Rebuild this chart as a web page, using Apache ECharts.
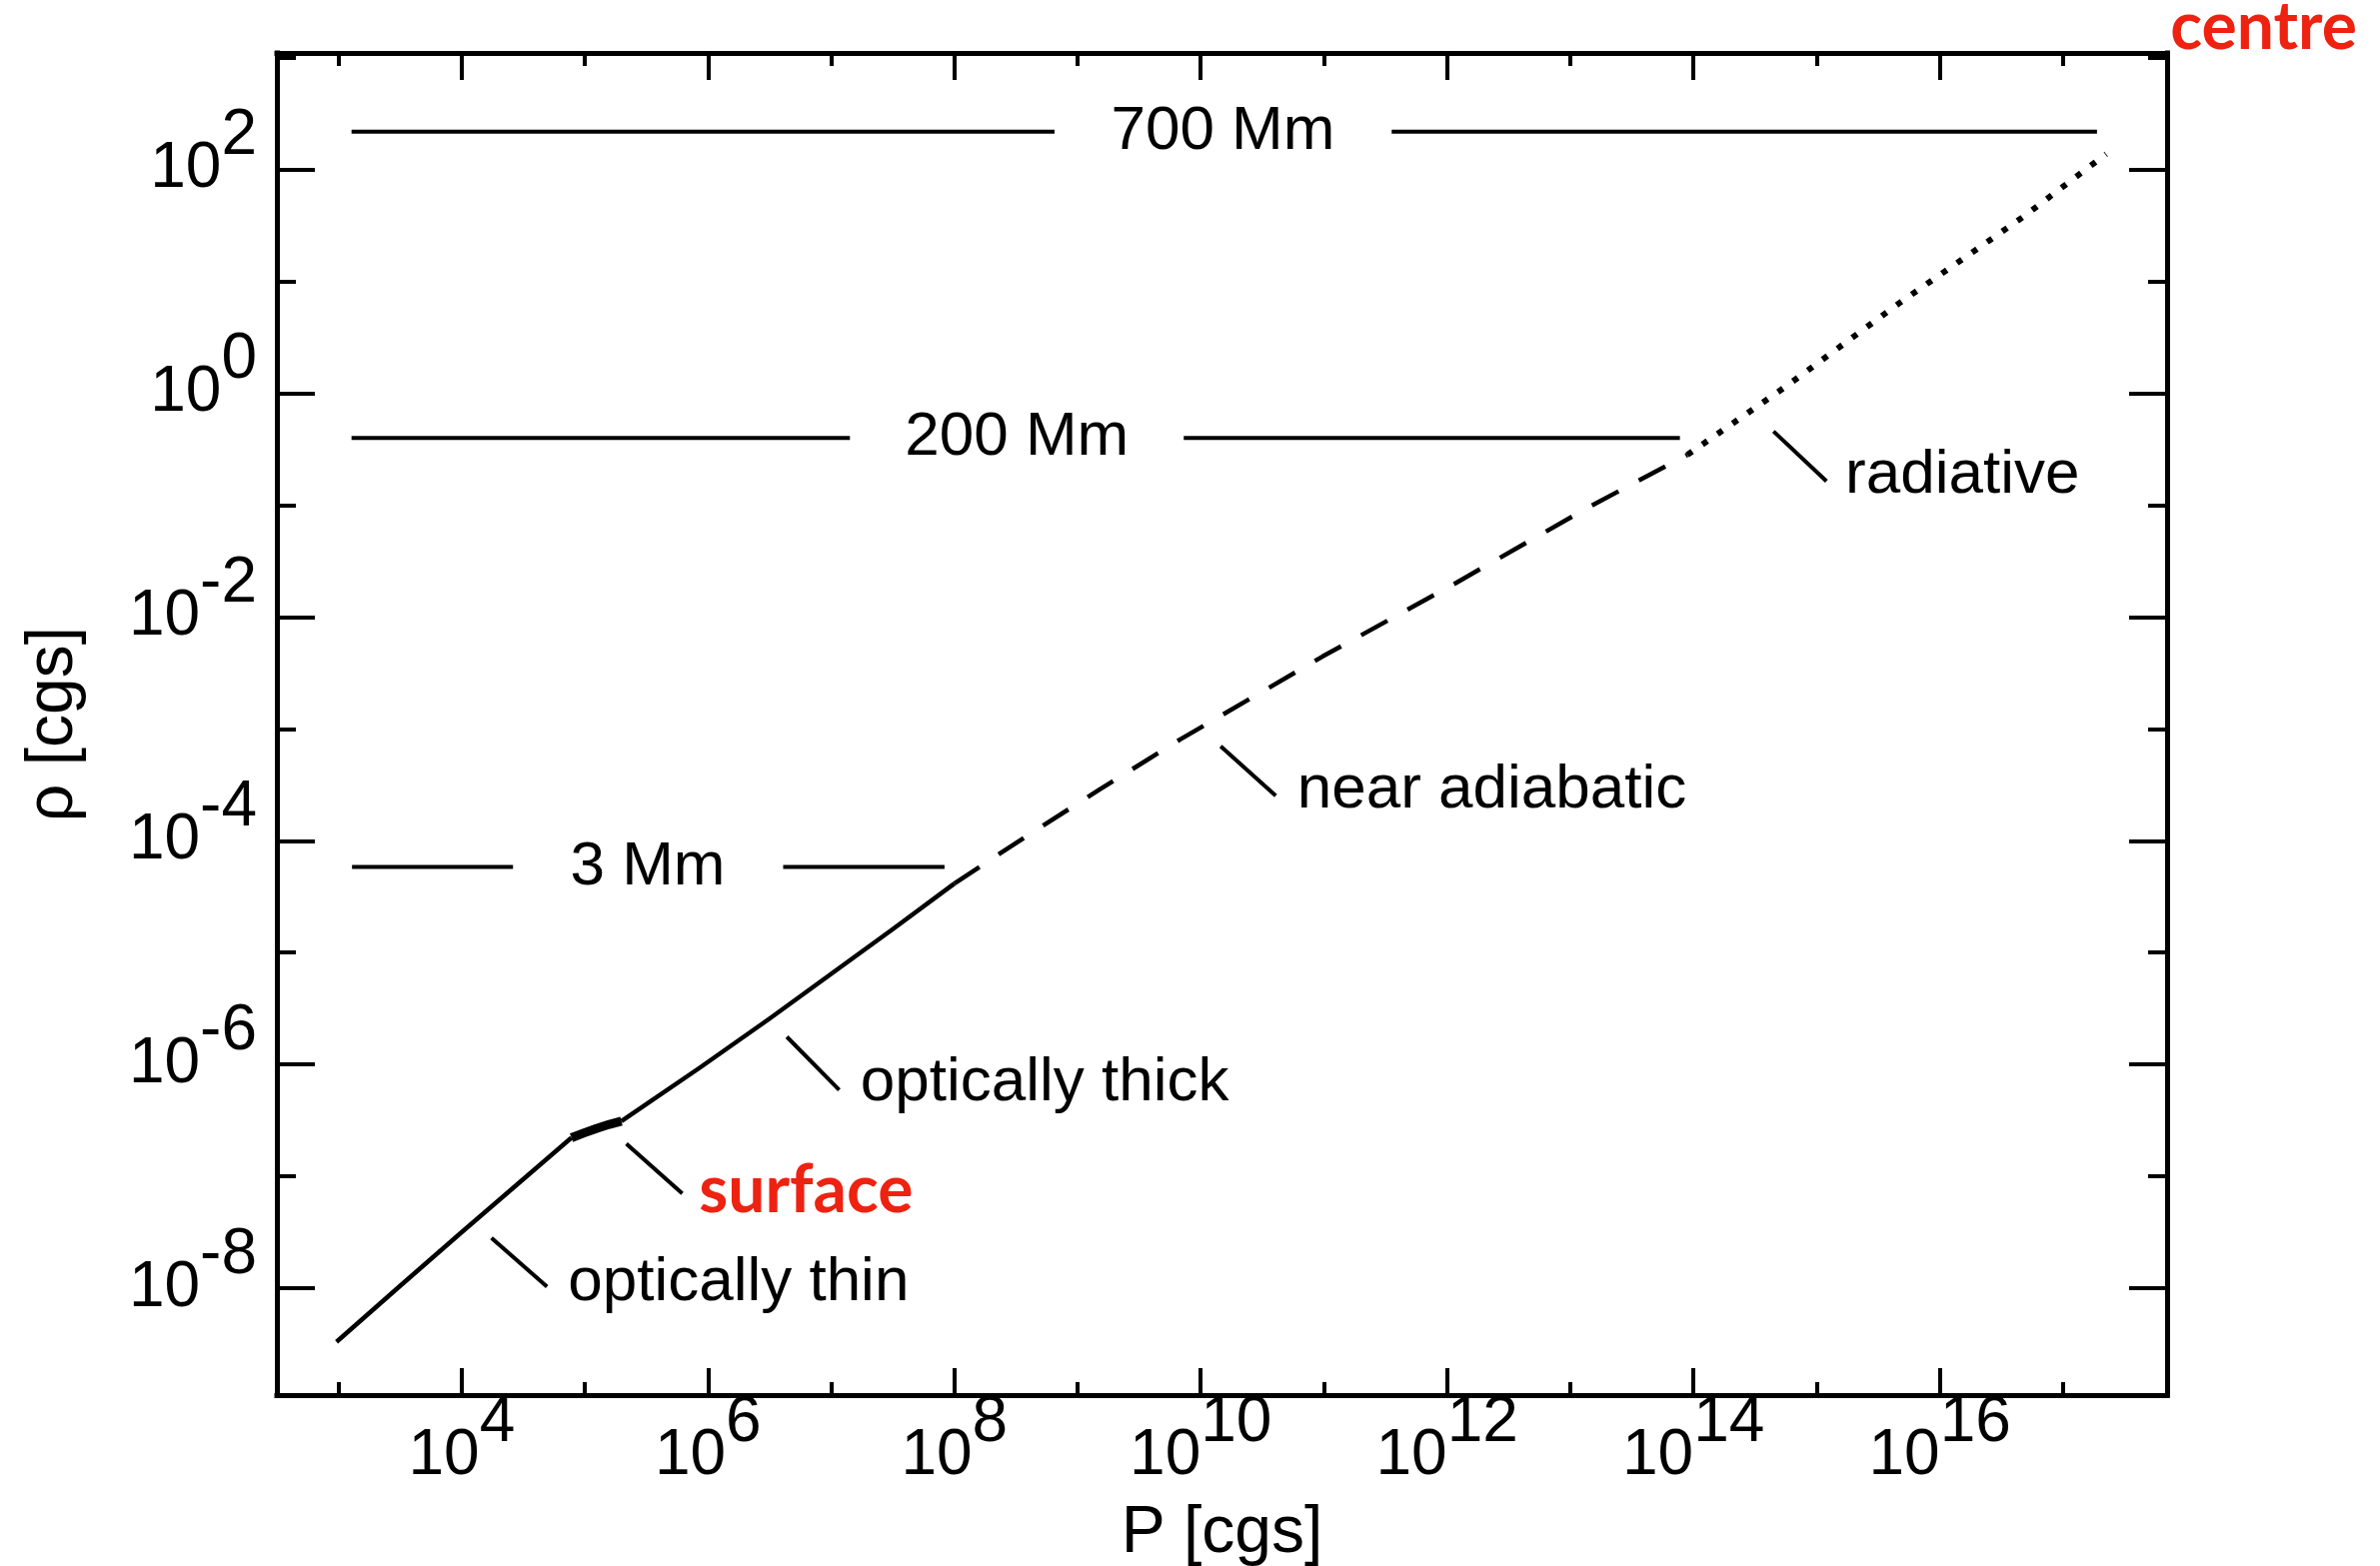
<!DOCTYPE html>
<html><head><meta charset="utf-8">
<style>html,body{margin:0;padding:0;background:#fff}#c{width:2381px;height:1567px}</style>
<script src="https://cdn.jsdelivr.net/npm/echarts@6/dist/echarts.min.js"></script>
</head><body><div id="c"></div>
<script>
// axis extents (log10 units)
const xRange = [2.5, 17.845];
const yRange = [-8.956, 3.043];
// tick exponents
const xTicksMajor = [4, 6, 8, 10, 12, 14, 16];
const xTicksMinor = [3, 5, 7, 9, 11, 13, 15, 17];
const yTicksMajor = [-8, -6, -4, -2, 0, 2];
const yTicksMinor = [-7, -5, -3, -1, 1, 3];

// curve: log10 P  vs  log10 rho
const thinLogP   = [2.984, 3.5, 4.0, 4.309, 4.891];
const thinLogRho = [-8.48, -7.98, -7.50, -7.207, -6.656];
const surfLogP   = [4.891, 5.0, 5.1, 5.2, 5.297];
const surfLogRho = [-6.656, -6.61, -6.57, -6.535, -6.507];
const thickLogP   = [5.297, 5.932, 6.5, 7.0, 7.5, 8.0];
const thickLogRho = [-6.507, -6.03, -5.59, -5.19, -4.79, -4.383];
const adiabLogP   = [8.0, 8.5, 9.177, 9.83, 10.99, 12.07, 13.16, 13.95];
const adiabLogRho = [-4.383, -4.02, -3.543, -3.096, -2.352, -1.696, -1.011, -0.55];
const radLogP   = [13.95, 14.75, 15.67, 16.68, 17.35];
const radLogRho = [-0.55, 0.061, 0.806, 1.58, 2.14];

// depth markers
const depthNames = ['700 Mm', '200 Mm', '3 Mm'];
const depthLogRho = [2.34, -0.40, -4.234];
const depthLabelLogP = [10.18, 8.507, 5.51];
const depthSeg1 = [[3.106, 8.813], [3.106, 7.152], [3.11, 4.417]];
const depthSeg2 = [[11.55, 17.276], [9.862, 13.89], [6.61, 7.92]];

// regime annotations
const noteNames = ['radiative', 'near adiabatic', 'optically thick', 'surface', 'optically thin'];
const noteRed = [false, false, false, true, false];
const noteLeadFrom = [[14.65, -0.34], [10.162, -3.156], [6.64, -5.753], [5.337, -6.709], [4.242, -7.55]];
const noteLeadTo   = [[15.08, -0.786], [10.609, -3.597], [7.065, -6.227], [5.791, -7.153], [4.693, -7.987]];
const noteTextAt   = [[15.233, -0.737], [10.783, -3.549], [7.238, -6.166], [5.926, -7.13], [4.863, -7.951]];
const centreName = 'centre';
const centreAt = [17.872, 3.268];

const BLACK = '#000';
const RED = '#ee2211';
const FONT = 'Liberation Sans, Arial, Helvetica, sans-serif';
const REDFONT = 'Lato, Open Sans, sans-serif';

const zip = (a, b) => a.map((v, i) => [v, b[i]]);
const expLabel = v => '{b|10}{e|' + Math.round(v) + '}';
const rich = {
  b: {fontFamily: FONT, fontSize: 64, lineHeight: 130, verticalAlign: 'middle', color: BLACK},
  e: {fontFamily: FONT, fontSize: 64, verticalAlign: 'top', color: BLACK}
};

function mkAxis(isX, position, ticks, len, showLine, labels, extra) {
  const r = isX ? xRange : yRange;
  return Object.assign({
    type: 'value', min: r[0], max: r[1], position: position,
    axisLine: {show: showLine, onZero: false, lineStyle: {color: BLACK, width: 5, cap: 'square'}},
    axisTick: {show: true, inside: true, length: len, customValues: ticks, lineStyle: {color: BLACK, width: 4}},
    axisLabel: labels ? {show: true, customValues: ticks, formatter: expLabel, rich: rich,
      margin: isX ? -4 : 20} : {show: false},
    splitLine: {show: false}, minorTick: {show: false}, axisPointer: {show: false}
  }, extra || {});
}

const series = [];
function lineSeries(data, width, dash) {
  series.push({
    type: 'line', data: data, symbol: 'none', silent: true, smooth: false,
    lineStyle: {color: BLACK, width: width, type: dash || 'solid', cap: 'butt', join: 'round', opacity: 1},
    xAxisIndex: 0, yAxisIndex: 0, z: 3
  });
}
lineSeries(zip(thinLogP, thinLogRho), 4.5);
lineSeries(zip(thickLogP, thickLogRho), 4.5);
lineSeries(zip(surfLogP, surfLogRho), 9);
lineSeries(zip(adiabLogP, adiabLogRho), 4.5, [30, 23]);
lineSeries(zip(radLogP, radLogRho), 6, [6, 12.4]);

function straight(a, b) {
  series.push({
    type: 'line', data: [a, b], symbol: 'none', silent: true,
    lineStyle: {color: BLACK, width: 4, opacity: 1}, xAxisIndex: 0, yAxisIndex: 0, z: 2
  });
}
depthNames.forEach((n, i) => {
  straight([depthSeg1[i][0], depthLogRho[i]], [depthSeg1[i][1], depthLogRho[i]]);
  straight([depthSeg2[i][0], depthLogRho[i]], [depthSeg2[i][1], depthLogRho[i]]);
});
noteNames.forEach((n, i) => straight(noteLeadFrom[i], noteLeadTo[i]));

series.push({
  type: 'scatter', symbolSize: 0, silent: true, xAxisIndex: 0, yAxisIndex: 0,
  itemStyle: {opacity: 1},
  data: depthNames.map((n, i) => ({name: n, value: [depthLabelLogP[i], depthLogRho[i]]})),
  label: {show: true, position: 'inside', formatter: '{b}', color: BLACK, opacity: 1, fontFamily: FONT, fontSize: 62,
    align: 'center', verticalAlign: 'middle'}
});
series.push({
  type: 'scatter', symbolSize: 0, silent: true, clip: false, xAxisIndex: 0, yAxisIndex: 0,
  itemStyle: {opacity: 1},
  data: noteNames.map((n, i) => ({
    name: n, value: noteTextAt[i],
    label: noteRed[i] ? {color: RED, fontFamily: REDFONT, fontWeight: 'bold', fontSize: 66}
                      : {color: BLACK, fontFamily: FONT, fontSize: 62}
  })).concat([{name: centreName, value: centreAt,
    label: {color: RED, fontFamily: REDFONT, fontWeight: 'bold', fontSize: 66}}]),
  label: {show: true, position: 'right', distance: 0, formatter: '{b}', align: 'left', verticalAlign: 'middle', opacity: 1}
});

const nameStyle = {fontFamily: FONT, fontSize: 66, color: BLACK};
const option = {
  animation: false,
  backgroundColor: '#fff',
  grid: {left: 277, right: 213, top: 53, bottom: 171, containLabel: false, outerBoundsMode: 'none'},
  xAxis: [
    mkAxis(true, 'bottom', xTicksMajor, 27, true, true,
      {name: 'P [cgs]', nameLocation: 'middle', nameGap: 106, nameTextStyle: nameStyle}),
    mkAxis(true, 'bottom', xTicksMinor, 13, false, false),
    mkAxis(true, 'top', xTicksMajor, 27, true, false),
    mkAxis(true, 'top', xTicksMinor, 13, false, false)
  ],
  yAxis: [
    mkAxis(false, 'left', yTicksMajor, 38, true, true,
      {name: 'ρ [cgs]', nameLocation: 'middle', nameGap: 190, nameRotate: 90, nameTextStyle: nameStyle}),
    mkAxis(false, 'left', yTicksMinor, 19, false, false),
    mkAxis(false, 'right', yTicksMajor, 38, true, false),
    mkAxis(false, 'right', yTicksMinor, 19, false, false)
  ],
  series: series
};
const chart = echarts.init(document.getElementById('c'), null, {renderer: 'canvas'});
chart.setOption(option);
</script></body></html>
